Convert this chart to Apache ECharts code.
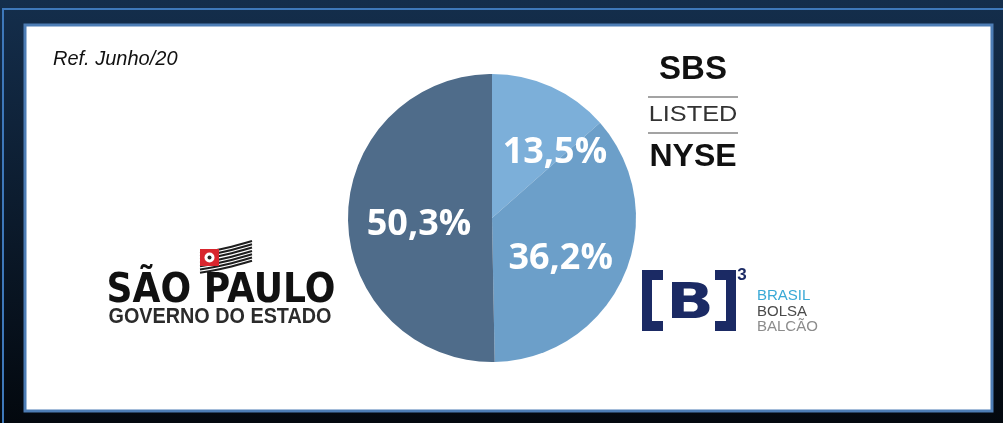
<!DOCTYPE html>
<html>
<head>
<meta charset="utf-8">
<script src="https://cdn.jsdelivr.net/npm/echarts@6/dist/echarts.min.js"></script>
<style>
  html, body { margin: 0; padding: 0; }
  #chart { width: 1003px; height: 423px; }
</style>
</head>
<body>
<div id="chart"></div>
<script>
// participação no capital (ref. junho/20)
var categories = ['SBS Listed NYSE', 'B3 Brasil Bolsa Balcão', 'Governo do Estado de São Paulo'];
var values = [13.5, 36.2, 50.3];
var colors = ['#7cafd9', '#6c9fc9', '#4f6c8a'];

// deslocamento dos rótulos (px)
var labelShift = [[32, 3], [0, 11], [2, 6]];

var myChart = echarts.init(document.getElementById('chart'));

var pieData = [];
for (var i = 0; i < values.length; i++) {
  pieData.push({ name: categories[i], value: values[i], itemStyle: { color: colors[i] } });
}

// bandeira (logo)
var stripes = [];
for (var s = 0; s < 7; s++) {
  stripes.push({
    type: 'polyline',
    shape: { points: [[200, 253 + s * 3.3], [226, 248 + s * 3.3], [252, 241 + s * 3.3]], smooth: 0.4 },
    style: { stroke: '#1e1e1e', lineWidth: 2.1, fill: null }
  });
}

var option = {
  backgroundColor: {
    type: 'linear', x: 0, y: 0, x2: 0, y2: 1,
    colorStops: [{ offset: 0, color: '#142e4c' }, { offset: 1, color: '#03080e' }]
  },
  graphic: [
    // moldura externa
    { type: 'rect', shape: { x: 3, y: 8, width: 1000, height: 2 }, style: { fill: '#3e78ba' } },
    { type: 'rect', shape: { x: 2, y: 8, width: 2, height: 415 }, style: { fill: '#3e78ba' } },
    // painel branco
    { type: 'rect', shape: { x: 25, y: 25, width: 967, height: 386 },
      style: { fill: '#ffffff', stroke: '#4d7db5', lineWidth: 3 } },
    { type: 'text', style: { text: 'Ref. Junho/20', x: 53, y: 59, fill: '#111',
      font: 'italic 20px "Liberation Sans"', textVerticalAlign: 'middle' } },

    // SBS / LISTED / NYSE
    { type: 'text', style: { text: 'SBS', x: 693, y: 70, fill: '#111',
      font: 'bold 33px "Liberation Sans"', textAlign: 'center', textVerticalAlign: 'middle' } },
    { type: 'rect', shape: { x: 648, y: 96, width: 90, height: 2 }, style: { fill: '#a3a3a3' } },
    { type: 'text', x: 693, y: 115, scaleX: 1.15,
      style: { text: 'LISTED', x: 0, y: 0, fill: '#333',
      font: '22px "Liberation Sans"', textAlign: 'center', textVerticalAlign: 'middle' } },
    { type: 'rect', shape: { x: 648, y: 132, width: 90, height: 2 }, style: { fill: '#a3a3a3' } },
    { type: 'text', style: { text: 'NYSE', x: 693, y: 157, fill: '#111',
      font: 'bold 32px "Liberation Sans"', textAlign: 'center', textVerticalAlign: 'middle' } },

    // B3
    { type: 'polyline', shape: { points: [[663, 275], [647, 275], [647, 326], [663, 326]] },
      style: { stroke: '#1b2a64', lineWidth: 10, fill: null, lineJoin: 'miter' } },
    { type: 'polyline', shape: { points: [[715, 275], [731, 275], [731, 326], [715, 326]] },
      style: { stroke: '#1b2a64', lineWidth: 10, fill: null, lineJoin: 'miter' } },
    { type: 'text', x: 690, y: 305, scaleX: 1.25,
      style: { text: 'B', x: 0, y: 0, fill: '#1b2a64',
      font: 'bold 50px "DejaVu Sans"', textAlign: 'center', textVerticalAlign: 'middle' } },
    { type: 'text', style: { text: '3', x: 742, y: 275, fill: '#1b2a64',
      font: 'bold 17px "Liberation Sans"', textAlign: 'center', textVerticalAlign: 'middle' } },
    { type: 'text', style: { text: 'BRASIL', x: 757, y: 296, fill: '#3aa9d6',
      font: '15px "Liberation Sans"', textVerticalAlign: 'middle' } },
    { type: 'text', style: { text: 'BOLSA', x: 757, y: 312, fill: '#4a4a4a',
      font: '15px "Liberation Sans"', textVerticalAlign: 'middle' } },
    { type: 'text', style: { text: 'BALCÃO', x: 757, y: 327, fill: '#8c8c8c',
      font: '15px "Liberation Sans"', textVerticalAlign: 'middle' } },

    // São Paulo
    { type: 'group', children: stripes.concat([
      { type: 'rect', shape: { x: 200, y: 249, width: 19, height: 17 }, style: { fill: '#d8262e' } },
      { type: 'circle', shape: { cx: 209.5, cy: 257.5, r: 5 }, style: { fill: '#ffffff' } },
      { type: 'circle', shape: { cx: 209.5, cy: 257.5, r: 2 }, style: { fill: '#2a2a2a' } }
    ]) },
    { type: 'text', x: 221, y: 291, scaleX: 0.88,
      style: { text: 'SÃO PAULO', x: 0, y: 0, fill: '#111',
      font: 'bold 41px "DejaVu Sans"', textAlign: 'center', textVerticalAlign: 'middle' } },
    { type: 'text', x: 220, y: 317, scaleX: 0.9,
      style: { text: 'GOVERNO DO ESTADO', x: 0, y: 0, fill: '#2b2b2b',
      font: 'bold 22px "Liberation Sans"', textAlign: 'center', textVerticalAlign: 'middle' } }
  ],
  series: [
    {
      type: 'pie',
      center: [492, 218],
      radius: 144,
      startAngle: 90,
      clockwise: true,
      data: pieData,
      label: {
        show: true,
        position: 'inside',
        color: '#ffffff',
        fontFamily: 'Open Sans',
        fontWeight: 'bold',
        fontSize: 36,
        formatter: function (p) {
          return p.value.toFixed(1).replace('.', ',') + '%';
        }
      },
      labelLine: { show: false },
      labelLayout: function (p) {
        return { dx: labelShift[p.dataIndex][0], dy: labelShift[p.dataIndex][1] };
      },
      emphasis: { disabled: true },
      animation: false
    }
  ]
};

myChart.setOption(option);
window.addEventListener('resize', function () {
  myChart.resize();
});
</script>
</body>
</html>
